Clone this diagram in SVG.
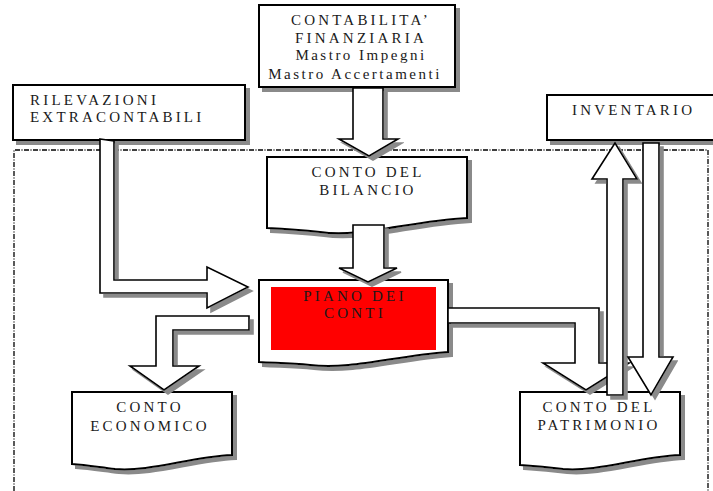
<svg xmlns="http://www.w3.org/2000/svg" width="713" height="491" viewBox="0 0 713 491">
  <defs>
    <!-- flat grey drop shadow used by boxes and block arrows -->
    <filter id="shadow" x="-5%" y="-5%" width="115%" height="115%">
      <feOffset in="SourceAlpha" dx="4" dy="4" result="off"/>
      <feFlood flood-color="#8a8a8a"/>
      <feComposite in2="off" operator="in" result="sh"/>
      <feMerge>
        <feMergeNode in="sh"/>
        <feMergeNode in="SourceGraphic"/>
      </feMerge>
    </filter>
    <style>
      .box { fill: #ffffff; stroke: #000000; stroke-width: 2; filter: url(#shadow); }
      .arrow { fill: #ffffff; stroke: #000000; stroke-width: 1.6; stroke-linejoin: miter; filter: url(#shadow); }
      .frame { fill: none; stroke: #000000; stroke-width: 1.3; stroke-dasharray: 5 1.5 1 1.5; }
      .lbl { font-family: "Liberation Serif", "Times New Roman", serif; font-size: 15px; fill: #1a1a1a; letter-spacing: 3.2px; }
      .lbl-s { letter-spacing: 2.5px; }
      .mid { text-anchor: middle; }
    </style>
  </defs>

  <rect width="713" height="491" fill="#ffffff"/>

  <!-- dashed boundary of the accounting system -->
  <path class="frame" d="M14,491 V150 H708 V491"/>

  <!-- nodes -->
  <g id="contabilita">
    <rect class="box" x="259" y="5" width="196" height="82"/>
    <text class="lbl mid" x="361" y="25">CONTABILITA’</text>
    <text class="lbl mid" x="361" y="43">FINANZIARIA</text>
    <text class="lbl lbl-s mid" x="361" y="60">Mastro Impegni</text>
    <text class="lbl lbl-s mid" x="355" y="79">Mastro Accertamenti</text>
  </g>

  <g id="rilevazioni">
    <rect class="box" x="13" y="85" width="232" height="55"/>
    <text class="lbl" x="30" y="105">RILEVAZIONI</text>
    <text class="lbl" x="30" y="122">EXTRACONTABILI</text>
  </g>

  <g id="inventario">
    <rect class="box" x="547" y="95" width="170" height="45"/>
    <text class="lbl" x="572" y="115">INVENTARIO</text>
  </g>

  <g id="bilancio">
    <path class="box" d="M267,157 H467 V218 C410,221 360,238 320,232 C300,230 285,229 267,228 Z"/>
    <text class="lbl mid" x="368" y="177">CONTO DEL</text>
    <text class="lbl mid" x="368" y="195">BILANCIO</text>
  </g>

  <g id="piano">
    <path class="box" d="M259,280 H448 V352 C395,356 350,370 310,365 C290,363 275,363 259,362 Z"/>
    <rect x="271" y="287" width="165" height="63" fill="#ff0000"/>
    <text class="lbl mid" x="355" y="301">PIANO DEI</text>
    <text class="lbl mid" x="355" y="318">CONTI</text>
  </g>

  <g id="economico">
    <path class="box" d="M72,392 H232 V455 C190,457 150,472 115,469 C98,467 86,465 72,464 Z"/>
    <text class="lbl mid" x="150" y="412">CONTO</text>
    <text class="lbl mid" x="150" y="431">ECONOMICO</text>
  </g>

  <g id="patrimonio">
    <path class="box" d="M520,392 H680 V455 C638,457 598,472 563,469 C546,467 534,466 520,465 Z"/>
    <text class="lbl mid" x="599" y="412">CONTO DEL</text>
    <text class="lbl mid" x="599" y="430">PATRIMONIO</text>
  </g>

  <!-- block arrows -->
  <g id="connectors">
    <path class="arrow" d="M353,88 H383 V139 H398 L369,156 L339,139 H353 Z"/>
    <path class="arrow" d="M353,225 H384 V268 H397 L368,282 L339,268 H353 Z"/>
    <path class="arrow" d="M100,139 L114,141 V280 H207 V267 L248,287 L207,308 V293 H100 Z"/>
    <path class="arrow" d="M249,316 V330 H173 V366 H199 L164,390 L130,366 H156 V316 Z"/>
    <path class="arrow" d="M448,308 H599 V363 H629 L586,390 L543,363 H575 V323 H448 Z"/>
    <path class="arrow" d="M607,395 V179 H592 L615,143 L637,179 H623 V395 Z"/>
    <path class="arrow" d="M643,143 H659 V357 H673 L651,395 L628,357 H643 Z"/>
  </g>
</svg>
